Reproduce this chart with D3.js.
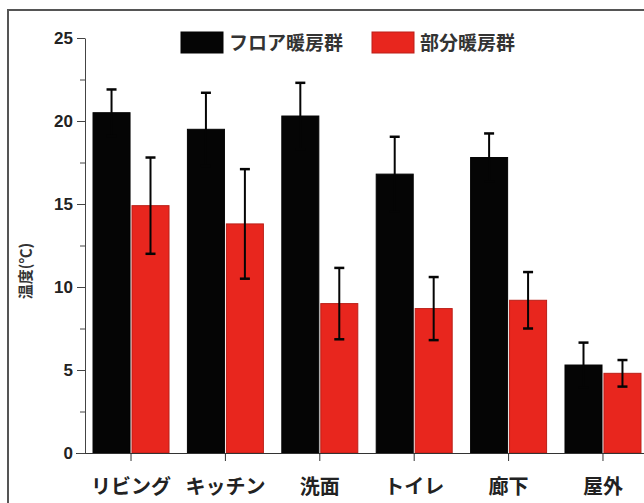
<!DOCTYPE html>
<html>
<head>
<meta charset="utf-8">
<script src="https://cdn.jsdelivr.net/npm/d3@7"></script>
<style>
  body { margin: 0; background: #fff; }
  svg { display: block; }
</style>
</head>
<body>
<div class="chart"></div>
<script>
const categories = ["リビング", "キッチン", "洗面", "トイレ", "廊下", "屋外"]
const seriesNames = ["フロア暖房群", "部分暖房群"]
const floorMeans = [20.5, 19.5, 20.3, 16.8, 17.8, 5.3]
const floorErrors = [1.4, 2.2, 2.0, 2.25, 1.45, 1.35]
const partMeans = [14.9, 13.8, 9.0, 8.7, 9.2, 4.8]
const partErrors = [2.9, 3.3, 2.15, 1.9, 1.7, 0.8]
const yTicks = [0, 5, 10, 15, 20, 25]
const yMinorTicks = [2.5, 7.5, 12.5, 17.5, 22.5]
const colors = ["#050505", "#e8261e"]

const svgWidth = 644
const svgHeight = 503
const jpFont = "'Noto Sans CJK JP', 'Noto Sans', sans-serif"
const numFont = "'Liberation Sans', Arial, sans-serif"

const svg = d3.select(".chart").append("svg")
    .attr("width", svgWidth)
    .attr("height", svgHeight)

// outer frame (runs off the right and bottom of the picture)
svg.append("rect")
    .attr("x", 8).attr("y", 10)
    .attr("width", 700).attr("height", 600)
    .attr("fill", "none")
    .attr("stroke", "#555")
    .attr("stroke-width", 2)

const yScale = d3.scaleLinear()
    .domain([0, 25])
    .range([453, 38])

const xScale = d3.scaleBand()
    .domain(categories)
    .range([85, 649])
    .paddingInner(0.195)
    .paddingOuter(0.085)

const subScale = d3.scaleBand()
    .domain(seriesNames)
    .range([0, xScale.bandwidth()])
    .paddingInner(0.05)

const rows = categories.map((c, i) => ({
    cat: c,
    vals: [
        {name: seriesNames[0], mean: floorMeans[i], err: floorErrors[i], color: colors[0]},
        {name: seriesNames[1], mean: partMeans[i], err: partErrors[i], color: colors[1]}
    ]
}))

const groups = svg.selectAll(".grp")
    .data(rows)
    .enter().append("g")
    .attr("class", "grp")
    .attr("transform", d => `translate(${xScale(d.cat)},0)`)

groups.selectAll("rect")
    .data(d => d.vals)
    .enter().append("rect")
    .attr("x", d => subScale(d.name))
    .attr("y", d => yScale(d.mean))
    .attr("width", subScale.bandwidth())
    .attr("height", d => yScale(0) - yScale(d.mean))
    .attr("fill", d => d.color)
    .attr("stroke", d => d3.color(d.color).darker(0.6))
    .attr("stroke-width", 1)

// error bars
const errs = groups.selectAll(".err")
    .data(d => d.vals)
    .enter().append("g")
    .attr("class", "err")
    .attr("transform", d => `translate(${subScale(d.name) + subScale.bandwidth() / 2},0)`)

errs.append("line")
    .attr("y1", d => yScale(d.mean + d.err))
    .attr("y2", d => yScale(d.mean - d.err))
    .attr("stroke", "#050505")
    .attr("stroke-width", 2)

errs.selectAll(".cap")
    .data(d => [d.mean + d.err, d.mean - d.err])
    .enter().append("line")
    .attr("class", "cap")
    .attr("x1", -5).attr("x2", 5)
    .attr("y1", d => yScale(d)).attr("y2", d => yScale(d))
    .attr("stroke", "#050505")
    .attr("stroke-width", 2.5)

// axes
const xAxis = d3.axisBottom(xScale).tickSizeInner(8).tickSizeOuter(0).tickPadding(19)
const yAxis = d3.axisLeft(yScale).tickValues(yTicks).tickSizeInner(8).tickSizeOuter(0).tickPadding(4)

const gx = svg.append("g")
    .attr("transform", `translate(0, ${yScale(0)})`)
    .call(xAxis)
gx.select(".domain").attr("stroke", "#333").attr("d", `M76,0.5H700`)
gx.selectAll(".tick line").attr("stroke", "#333")
gx.selectAll(".tick text")
    .attr("font-family", jpFont)
    .attr("font-weight", "bold")
    .attr("font-size", "20px")
    .attr("fill", "#222")

const gy = svg.append("g")
    .attr("transform", "translate(85,0)")
    .call(yAxis)
gy.select(".domain").attr("stroke", "#444")
gy.selectAll(".tick line").attr("stroke", "#444")
gy.selectAll(".tick text")
    .attr("font-family", numFont)
    .attr("font-weight", "bold")
    .attr("font-size", "17px")
    .attr("fill", "#222")

gy.selectAll(".minor")
    .data(yMinorTicks)
    .enter().append("line")
    .attr("class", "minor")
    .attr("x1", -5).attr("x2", 0)
    .attr("y1", d => yScale(d) + 0.5).attr("y2", d => yScale(d) + 0.5)
    .attr("stroke", "#444")

// y title
svg.append("text")
    .attr("transform", "translate(31,271) rotate(-90)")
    .attr("text-anchor", "middle")
    .attr("font-family", jpFont)
    .attr("font-weight", "bold")
    .attr("font-size", "15px")
    .attr("fill", "#333")
    .text("温度(℃)")

// legend
const legendX = [181, 372]
const legend = svg.selectAll(".leg")
    .data(seriesNames)
    .enter().append("g")
    .attr("class", "leg")
    .attr("transform", (d, i) => `translate(${legendX[i]}, 32)`)

legend.append("rect")
    .attr("width", 42).attr("height", 21)
    .attr("fill", (d, i) => colors[i])
    .attr("stroke", (d, i) => d3.color(colors[i]).darker(0.6))

legend.append("text")
    .attr("x", 48).attr("y", 18)
    .attr("font-family", jpFont)
    .attr("font-weight", "bold")
    .attr("font-size", "19px")
    .attr("fill", "#333")
    .text(d => d)
</script>
</body>
</html>
